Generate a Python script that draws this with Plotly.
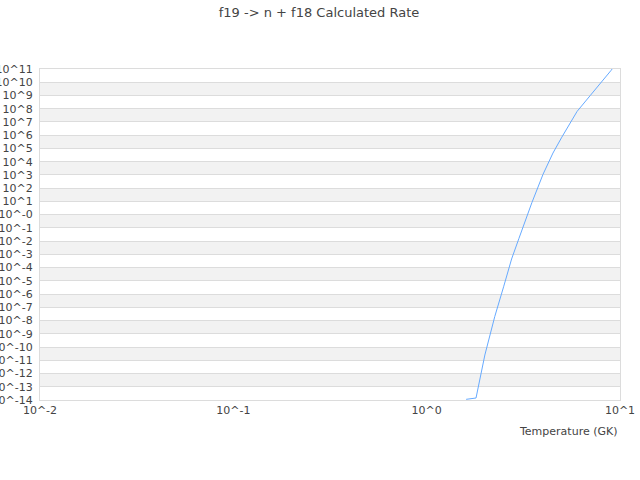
import plotly.graph_objects as go

# ---------------------------------------------------------------------------
# Data (temperature in GK, rate)
# ---------------------------------------------------------------------------
TEMPS = [1.6, 1.8, 2.0, 2.25, 2.5, 2.75, 3.0, 3.5, 4.0, 4.5, 5.0, 6.0, 7.0, 8.0, 9.0, 10.0]
LOG_RATES = [-13.95, -13.85, -10.6, -7.7, -5.45, -3.35, -1.8, 0.9, 3.05, 4.65,
             5.85, 7.8, 8.98, 9.98, 10.9, 11.8]
RATES = [10 ** v for v in LOG_RATES]

X_TICKS = [-2, -1, 0, 1]
Y_TICKS = list(range(-14, 12))
Y_MIN, Y_MAX = -14, 11

FONT = "DejaVu Sans"
TEXT_COLOR = "#444444"
GRID_COLOR = "#dcdcdc"
BAND_COLOR = "#f2f2f2"
LINE_COLOR = "rgb(102,170,255)"


def y_label(p):
    if p == 0:
        return "10^-0"
    return f"10^{p}"


fig = go.Figure()

fig.add_trace(go.Scatter(
    x=TEMPS,
    y=RATES,
    mode="lines",
    line=dict(color=LINE_COLOR, width=1),
    showlegend=False,
    hoverinfo="skip",
))

# alternating grey bands between decades
shapes = []
for lo in range(-13, Y_MAX, 2):
    shapes.append(dict(
        type="rect", xref="paper", yref="paper",
        x0=0, x1=1,
        y0=(lo - Y_MIN) / (Y_MAX - Y_MIN),
        y1=(lo + 1 - Y_MIN) / (Y_MAX - Y_MIN),
        fillcolor=BAND_COLOR, line=dict(width=0), layer="below",
    ))

fig.update_layout(
    width=640,
    height=480,
    margin=dict(l=40, r=20, t=69, b=80),
    paper_bgcolor="white",
    plot_bgcolor="white",
    font=dict(family=FONT, size=11, color=TEXT_COLOR),
    title=dict(
        text="f19 -> n + f18 Calculated Rate",
        x=319 / 640, xanchor="center",
        y=1 - 12 / 480, yanchor="middle",
        font=dict(family=FONT, size=13, color=TEXT_COLOR),
        automargin=False,
    ),
    shapes=shapes,
    xaxis=dict(
        type="log",
        range=[X_TICKS[0], X_TICKS[-1]],
        tickvals=[10 ** p for p in X_TICKS],
        ticktext=[f"10^{p}" for p in X_TICKS],
        showgrid=False,
        zeroline=False,
        showline=True, linecolor=GRID_COLOR, linewidth=1,
        mirror=True,
        ticks="",
        automargin=False,
        tickfont=dict(size=11, color=TEXT_COLOR),
    ),
    yaxis=dict(
        type="log",
        range=[Y_MIN, Y_MAX],
        tickvals=[10 ** p for p in Y_TICKS],
        ticktext=[y_label(p) for p in Y_TICKS],
        showgrid=True, gridcolor=GRID_COLOR, gridwidth=1,
        zeroline=False,
        showline=True, linecolor=GRID_COLOR, linewidth=1,
        mirror=True,
        ticks="",
        ticklabelstandoff=4,
        automargin=False,
        tickfont=dict(size=11, color=TEXT_COLOR),
    ),
    annotations=[dict(
        text="Temperature (GK)",
        xref="paper", yref="paper",
        x=1, xanchor="right",
        y=-31 / 331, yanchor="middle",
        showarrow=False,
        font=dict(family=FONT, size=11, color=TEXT_COLOR),
    )],
)

# drop the default page margin so the chart sits at the window corner
fig.write_html(
    "out.html",
    config={"displayModeBar": False},
    post_script="document.body.style.margin='0';",
)
